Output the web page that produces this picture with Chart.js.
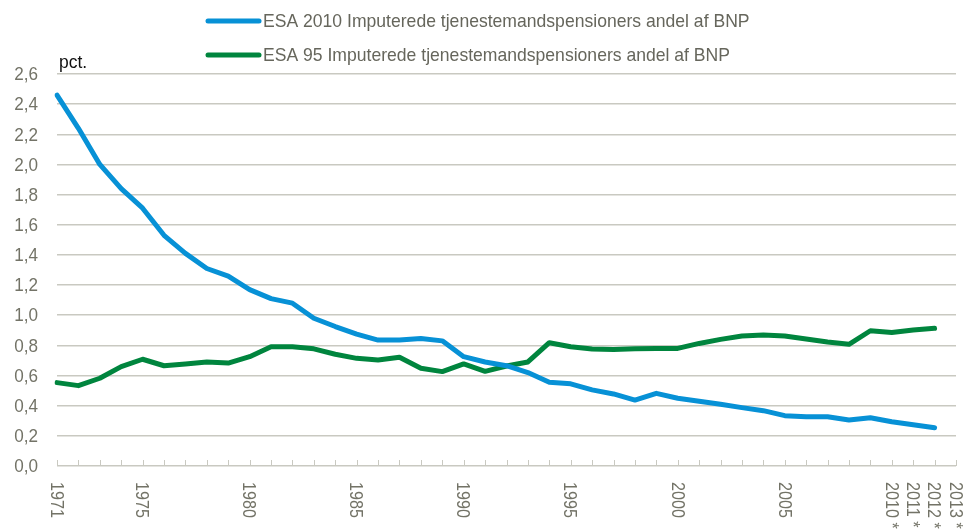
<!DOCTYPE html>
<html>
<head>
<meta charset="utf-8">
<script src="https://cdn.jsdelivr.net/npm/chart.js@4/dist/chart.umd.min.js"></script>
<style>
html,body{margin:0;padding:0;background:#fff;}
#wrap{width:975px;height:530px;position:relative;}
</style>
</head>
<body>
<div id="wrap"><canvas id="c" width="975" height="530"></canvas></div>
<script>
const categories = ['1971','1972','1973','1974','1975','1976','1977','1978','1979','1980',
  '1981','1982','1983','1984','1985','1986','1987','1988','1989','1990',
  '1991','1992','1993','1994','1995','1996','1997','1998','1999','2000',
  '2001','2002','2003','2004','2005','2006','2007','2008','2009','2010 *',
  '2011 *','2012 *','2013 *'];
const shownLabels = ['1971','1975','1980','1985','1990','1995','2000','2005','2010 *','2011 *','2012 *','2013 *'];
const esa2010 = [2.46,2.24,2.00,1.84,1.71,1.53,1.41,1.31,1.26,1.17,
  1.11,1.08,0.98,0.925,0.875,0.835,0.835,0.845,0.83,0.725,
  0.69,0.665,0.62,0.555,0.545,0.505,0.478,0.437,0.482,0.449,
  0.43,0.41,0.387,0.367,0.334,0.327,0.327,0.305,0.32,0.294,
  0.274,0.254,null];
const esa95 = [0.553,0.533,0.582,0.659,0.708,0.665,0.677,0.69,0.683,0.725,
  0.791,0.791,0.777,0.741,0.714,0.703,0.721,0.648,0.626,0.677,
  0.628,0.663,0.69,0.818,0.791,0.776,0.772,0.778,0.78,0.78,
  0.813,0.84,0.862,0.869,0.862,0.842,0.822,0.807,0.897,0.886,
  0.902,0.913,null];
const seriesNames = ['ESA 2010 Imputerede tjenestemandspensioners andel af BNP',
  'ESA 95 Imputerede tjenestemandspensioners andel af BNP'];
const yTicks = {min:0, max:2.6, step:0.2};
const unitLabel = 'pct.';

const FONT = '"Liberation Sans",Arial,sans-serif';
const BLUE = '#0791d6';
const GREEN = '#00853e';
const GRID = '#c9c9c1';
const TICKCOL = '#737367';
const LEGCOL = '#66665c';

function narrowText(ctx, text, x, y, sx, align) {
  ctx.save();
  ctx.translate(x, y);
  ctx.scale(sx, 1);
  ctx.textAlign = align;
  ctx.fillText(text, 0, 0);
  ctx.restore();
}

const customPlugin = {
  id: 'custom',
  afterDraw(chart) {
    const ctx = chart.ctx;
    const x = chart.scales.x, y = chart.scales.y;
    const base = y.getPixelForValue(0);
    ctx.save();
    // tick marks up from axis
    ctx.strokeStyle = GRID; ctx.lineWidth = 1;
    categories.forEach((c, i) => {
      const px = Math.round(x.getPixelForValue(i)) + 0.5;
      ctx.beginPath(); ctx.moveTo(px, base); ctx.lineTo(px, base - 6); ctx.stroke();
    });
    // y labels
    ctx.fillStyle = TICKCOL;
    ctx.font = '19px ' + FONT;
    ctx.textBaseline = 'middle';
    y.ticks.forEach(t => {
      const py = y.getPixelForValue(t.value);
      narrowText(ctx, t.value.toFixed(1).replace('.', ','), 38, py + 1, 0.9, 'right');
    });
    // x labels rotated clockwise
    categories.forEach((c, i) => {
      if (!shownLabels.includes(c)) return;
      const px = x.getPixelForValue(i);
      ctx.save();
      ctx.translate(px, base + 16);
      ctx.rotate(Math.PI / 2);
      ctx.scale(0.85, 1);
      ctx.textAlign = 'left'; ctx.textBaseline = 'middle';
      ctx.fillText(c, 0, 1);
      ctx.restore();
    });
    // unit label
    ctx.fillStyle = '#111';
    ctx.font = '19px ' + FONT;
    ctx.textBaseline = 'alphabetic';
    narrowText(ctx, unitLabel, 59, 68, 0.92, 'left');
    // legend
    const rows = [21, 55];
    chart.data.datasets.forEach((ds, i) => {
      ctx.fillStyle = ds.borderColor;
      ctx.beginPath();
      ctx.lineCap = 'round';
      ctx.strokeStyle = ds.borderColor;
      ctx.lineWidth = 5;
      ctx.moveTo(208, rows[i]); ctx.lineTo(259, rows[i]); ctx.stroke();
      ctx.fillStyle = LEGCOL;
      ctx.font = '19px ' + FONT;
      ctx.textBaseline = 'middle';
      narrowText(ctx, ds.label, 263, rows[i] + 1, 0.925, 'left');
    });
    ctx.restore();
  }
};

new Chart(document.getElementById('c'), {
  type: 'line',
  data: {
    labels: categories,
    datasets: [
      {label: seriesNames[0], data: esa2010, borderColor: BLUE, backgroundColor: BLUE, borderWidth: 5, pointRadius: 0, tension: 0, borderCapStyle: 'round', borderJoinStyle: 'round'},
      {label: seriesNames[1], data: esa95, borderColor: GREEN, backgroundColor: GREEN, borderWidth: 5, pointRadius: 0, tension: 0, borderCapStyle: 'round', borderJoinStyle: 'round'}
    ]
  },
  options: {
    responsive: false,
    animation: false,
    layout: {padding: {top: 74, right: 19, bottom: 0, left: 0}},
    plugins: {legend: {display: false}, tooltip: {enabled: false}},
    scales: {
      x: {
        offset: false,
        grid: {display: false},
        border: {display: false},
        ticks: {display: false},
        afterFit(s) { s.height = 64; }
      },
      y: {
        min: yTicks.min, max: yTicks.max,
        grid: {color: GRID, lineWidth: 1.5, drawTicks: false},
        border: {display: false},
        ticks: {stepSize: yTicks.step, display: false},
        afterFit(s) { s.width = 57; }
      }
    }
  },
  plugins: [customPlugin]
});
</script>
</body>
</html>
